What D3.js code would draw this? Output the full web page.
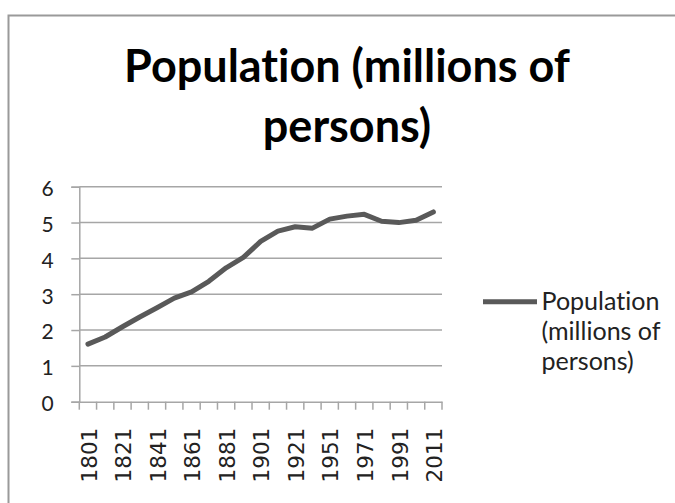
<!DOCTYPE html>
<html><head><meta charset="utf-8">
<script src="https://cdn.jsdelivr.net/npm/d3@7"></script>
<style>html,body{margin:0;padding:0;background:#fff;overflow:hidden} text{font-variant-ligatures:none;font-feature-settings:"liga" 0,"clig" 0}</style>
</head><body>
<svg id="c" width="675" height="503"></svg>
<script>
const years = ["1801","1811","1821","1831","1841","1851","1861","1871","1881","1891","1901","1911","1921","1931","1951","1961","1971","1981","1991","2001","2011"];
const population = [1.608,1.806,2.092,2.364,2.620,2.889,3.062,3.360,3.736,4.026,4.472,4.761,4.882,4.843,5.096,5.179,5.229,5.035,4.998,5.062,5.295];
const yTicks = [0,1,2,3,4,5,6];
const titleLines = ["Population (millions of","persons)"];
const legendLines = ["Population","(millions of","persons)"];

(function(){
const svg = d3.select("#c");
const lineColor = "#595959", gridColor = "#a6a6a6";

svg.append("rect").attr("x",8.5).attr("y",15.5).attr("width",720).attr("height",600)
  .attr("fill","none").attr("stroke","#9a9a9a").attr("stroke-width",2);

const pL = 79.3, pR = 442, pT = 186.7, pB = 401.7;
const x = d3.scaleBand().domain(years).range([pL,pR]);
const y = d3.scaleLinear().domain([0,6]).range([pB,pT]);

function fit(sel, w){
  const cur = sel.node().getComputedTextLength();
  const fs = parseFloat(sel.attr("font-size"));
  sel.attr("font-size", fs*w/cur);
}

const t1 = svg.append("text").attr("x",347).attr("y",81.7).attr("text-anchor","middle")
  .attr("font-family","Lato, 'Open Sans', sans-serif").attr("font-weight","bold").attr("font-size",42).attr("fill","#000").text(titleLines[0]);
fit(t1, 446);
svg.append("text").attr("x",347).attr("y",141.7).attr("text-anchor","middle")
  .attr("font-family","Lato, 'Open Sans', sans-serif").attr("font-weight","bold").attr("font-size",t1.attr("font-size")).attr("fill","#000").text(titleLines[1]);

svg.append("g").selectAll("line").data(yTicks.filter(d=>d>0)).join("line")
  .attr("x1",pL).attr("x2",pR).attr("y1",d=>y(d)).attr("y2",d=>y(d))
  .attr("stroke",gridColor).attr("stroke-width",1.5);

const ya = svg.append("g").attr("transform",`translate(${pL},0)`)
  .call(d3.axisLeft(y).tickValues(yTicks).tickSize(8).tickPadding(0).tickFormat(d3.format("d")));
ya.select(".domain").attr("stroke",gridColor).attr("stroke-width",1.5);
ya.selectAll(".tick line").attr("stroke",gridColor).attr("stroke-width",1.5);
ya.selectAll(".tick text").attr("x",-25.5).attr("font-family","Lato, 'Open Sans', sans-serif").attr("font-size",21).attr("fill","#222").attr("dy","0.42em");

const xa = svg.append("g").attr("transform",`translate(0,${pB})`)
  .call(d3.axisBottom(x).tickSize(0).tickFormat((d,i)=> i%2===0 ? d : ""));
xa.select(".domain").attr("stroke",gridColor).attr("stroke-width",1.5);
xa.selectAll(".tick text").attr("font-family","'DejaVu Sans', sans-serif").attr("font-size",21.5).attr("fill","#222")
  .attr("text-anchor","end").attr("transform","rotate(-90)").attr("x",-26).attr("y",1).attr("dy","0.36em");
const bounds = years.map(d=>x(d)).concat([pR]);
svg.append("g").selectAll("line").data(bounds).join("line")
  .attr("x1",d=>d).attr("x2",d=>d).attr("y1",pB).attr("y2",pB+8)
  .attr("stroke",gridColor).attr("stroke-width",1.5);

const line = d3.line().x((d,i)=>x(years[i])+x.bandwidth()/2).y(d=>y(d));
svg.append("path").datum(population).attr("d",line).attr("fill","none")
  .attr("stroke",lineColor).attr("stroke-width",5).attr("stroke-linejoin","round").attr("stroke-linecap","round");

svg.append("line").attr("x1",483).attr("x2",537).attr("y1",301.7).attr("y2",301.7)
  .attr("stroke",lineColor).attr("stroke-width",5);
const lg = svg.append("g");
legendLines.forEach((s,i)=>{
  const t = lg.append("text").attr("x",541.5).attr("y",309.5+i*30).attr("font-family","Lato, 'Open Sans', sans-serif")
    .attr("font-size",22).attr("fill","#222").text(s);
  if(i===0) fit(t,118);
});
const lfs = lg.select("text").attr("font-size");
lg.selectAll("text").attr("font-size",lfs);
})();
</script>
</body></html>
